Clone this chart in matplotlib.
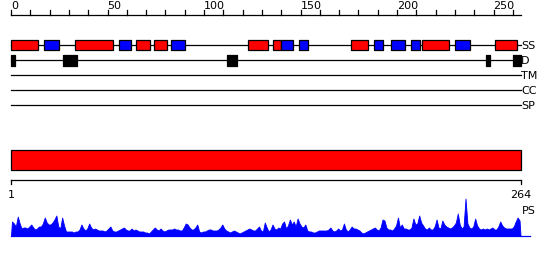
import numpy as np
import matplotlib
matplotlib.use("Agg")
import matplotlib.pyplot as plt

# ---------------- data ----------------
seq_len = 264
tick_step = 10
tick_labels = [0, 50, 100, 150, 200, 250]

# secondary structure (residue start, end)
helix_segments = [(1, 14), (34, 53), (66, 72), (75, 81), (124, 133), (137, 140),
                  (177, 185), (214, 227), (252, 262)]
strand_segments = [(18, 25), (57, 62), (84, 90), (141, 146), (150, 154), (189, 193),
                   (198, 204), (208, 212), (231, 238)]
# disorder
disorder_segments = [(1, 2), (28, 34), (113, 117), (247, 248), (261, 264)]
# empty tracks
track_labels = ["SS", "D", "TM", "CC", "SP"]
# domain bar
domain_segments = [(1, 264)]

# per-residue profile values (PS)
ps_values = [
    14, 12, 9, 19, 12, 7, 8, 8, 7, 9,
    11, 8, 6, 7, 9, 9, 12, 18, 13, 11,
    11, 13, 16, 20, 9, 7, 18, 10, 4, 4,
    4, 4, 3, 4, 4, 6, 11, 7, 5, 7,
    12, 8, 6, 7, 6, 5, 5, 5, 4, 5,
    7, 9, 5, 4, 4, 5, 6, 7, 8, 6,
    5, 5, 7, 5, 6, 5, 4, 4, 4, 3,
    3, 2, 4, 6, 8, 6, 5, 7, 5, 4,
    5, 6, 6, 6, 7, 6, 6, 5, 5, 8,
    12, 11, 8, 6, 6, 8, 11, 4, 3, 4,
    4, 5, 6, 6, 5, 5, 5, 6, 8, 11,
    7, 5, 4, 3, 4, 5, 4, 3, 2, 3,
    4, 5, 6, 7, 6, 5, 5, 7, 9, 5,
    4, 13, 8, 4, 6, 11, 7, 6, 8, 7,
    12, 14, 7, 10, 16, 11, 14, 9, 17, 12,
    9, 8, 11, 5, 4, 4, 3, 3, 4, 5,
    5, 5, 5, 5, 6, 8, 5, 4, 5, 7,
    5, 6, 12, 6, 4, 6, 9, 7, 7, 6,
    5, 3, 2, 3, 4, 5, 6, 7, 8, 6,
    5, 8, 16, 15, 8, 6, 6, 5, 7, 10,
    18, 8, 11, 7, 7, 6, 6, 8, 17, 11,
    12, 20, 13, 10, 7, 6, 8, 6, 6, 9,
    16, 8, 7, 15, 11, 9, 8, 7, 8, 10,
    13, 22, 11, 7, 9, 37, 12, 8, 7, 9,
    17, 10, 7, 6, 7, 6, 7, 6, 7, 8,
    6, 6, 9, 14, 10, 8, 7, 7, 7, 7,
    9, 14, 18, 15,
]

# ---------------- layout ----------------
W, H = 550, 260
x0_px = 11.0
px_per_res = 1.93

fig = plt.figure(figsize=(W / 100, H / 100), dpi=100)
ax = fig.add_axes([0, 0, 1, 1])
ax.set_xlim(-x0_px / px_per_res, (W - x0_px) / px_per_res)
ax.set_ylim(H, 0)
ax.axis("off")

lw = 0.9
fs = 8
RED = "#ff0000"
BLUE = "#0000ff"

# top ruler
y_rule = 15.3
ax.plot([0, seq_len], [y_rule, y_rule], color="black", lw=lw)
for t in range(0, seq_len + 1, tick_step):
    ax.plot([t, t], [y_rule, y_rule - 5], color="black", lw=lw)
for t in tick_labels:
    ax.text(t, y_rule - 4.5, str(t), ha="left", va="bottom", fontsize=fs)

# track rows
row_y = {"SS": 45.3, "D": 60.3, "TM": 75.3, "CC": 90.3, "SP": 105.3}
for name in track_labels:
    y = row_y[name]
    ax.plot([0, seq_len], [y, y], color="black", lw=lw, zorder=1)
    ax.text(seq_len + 0.3, y + 0.5, name, ha="left", va="center", fontsize=fs)

def bars(segs):
    return [(s - 1, e - s + 1) for s, e in segs]

ax.broken_barh(bars(helix_segments), (40.3, 10), facecolors=RED,
               edgecolors="black", linewidth=lw, zorder=2)
ax.broken_barh(bars(strand_segments), (40.3, 10), facecolors=BLUE,
               edgecolors="black", linewidth=lw, zorder=2)
ax.broken_barh(bars(disorder_segments), (55.3, 10.5), facecolors="black",
               edgecolors="black", linewidth=lw, zorder=2)

# domain bar
ax.broken_barh(bars(domain_segments), (150.3, 20), facecolors=RED,
               edgecolors="black", linewidth=lw, zorder=2)

# bottom ruler
y_b = 180.3
ax.plot([0, seq_len], [y_b, y_b], color="black", lw=lw)
ax.plot([0, 0], [y_b, y_b + 4], color="black", lw=lw)
ax.plot([seq_len, seq_len], [y_b, y_b + 4], color="black", lw=lw)
ax.text(0, 189.5, "1", ha="center", va="top", fontsize=fs)
ax.text(seq_len, 189.5, str(seq_len), ha="center", va="top", fontsize=fs)
ax.text(seq_len + 0.6, 211.5, "PS", ha="left", va="center", fontsize=fs)

# profile
base = 235.5
vals = np.array(ps_values, dtype=float)
pos = np.arange(1, seq_len + 1) - 0.5
xs = np.concatenate([[0], pos, [seq_len]])
ys = np.concatenate([[0], vals, [0]])
ax.fill_between(xs, base, base - ys, color=BLUE, lw=0.6, zorder=2)
ax.plot([0, seq_len + 5], [base, base], color=BLUE, lw=lw, zorder=2)

fig.savefig("out.png", dpi=100)
